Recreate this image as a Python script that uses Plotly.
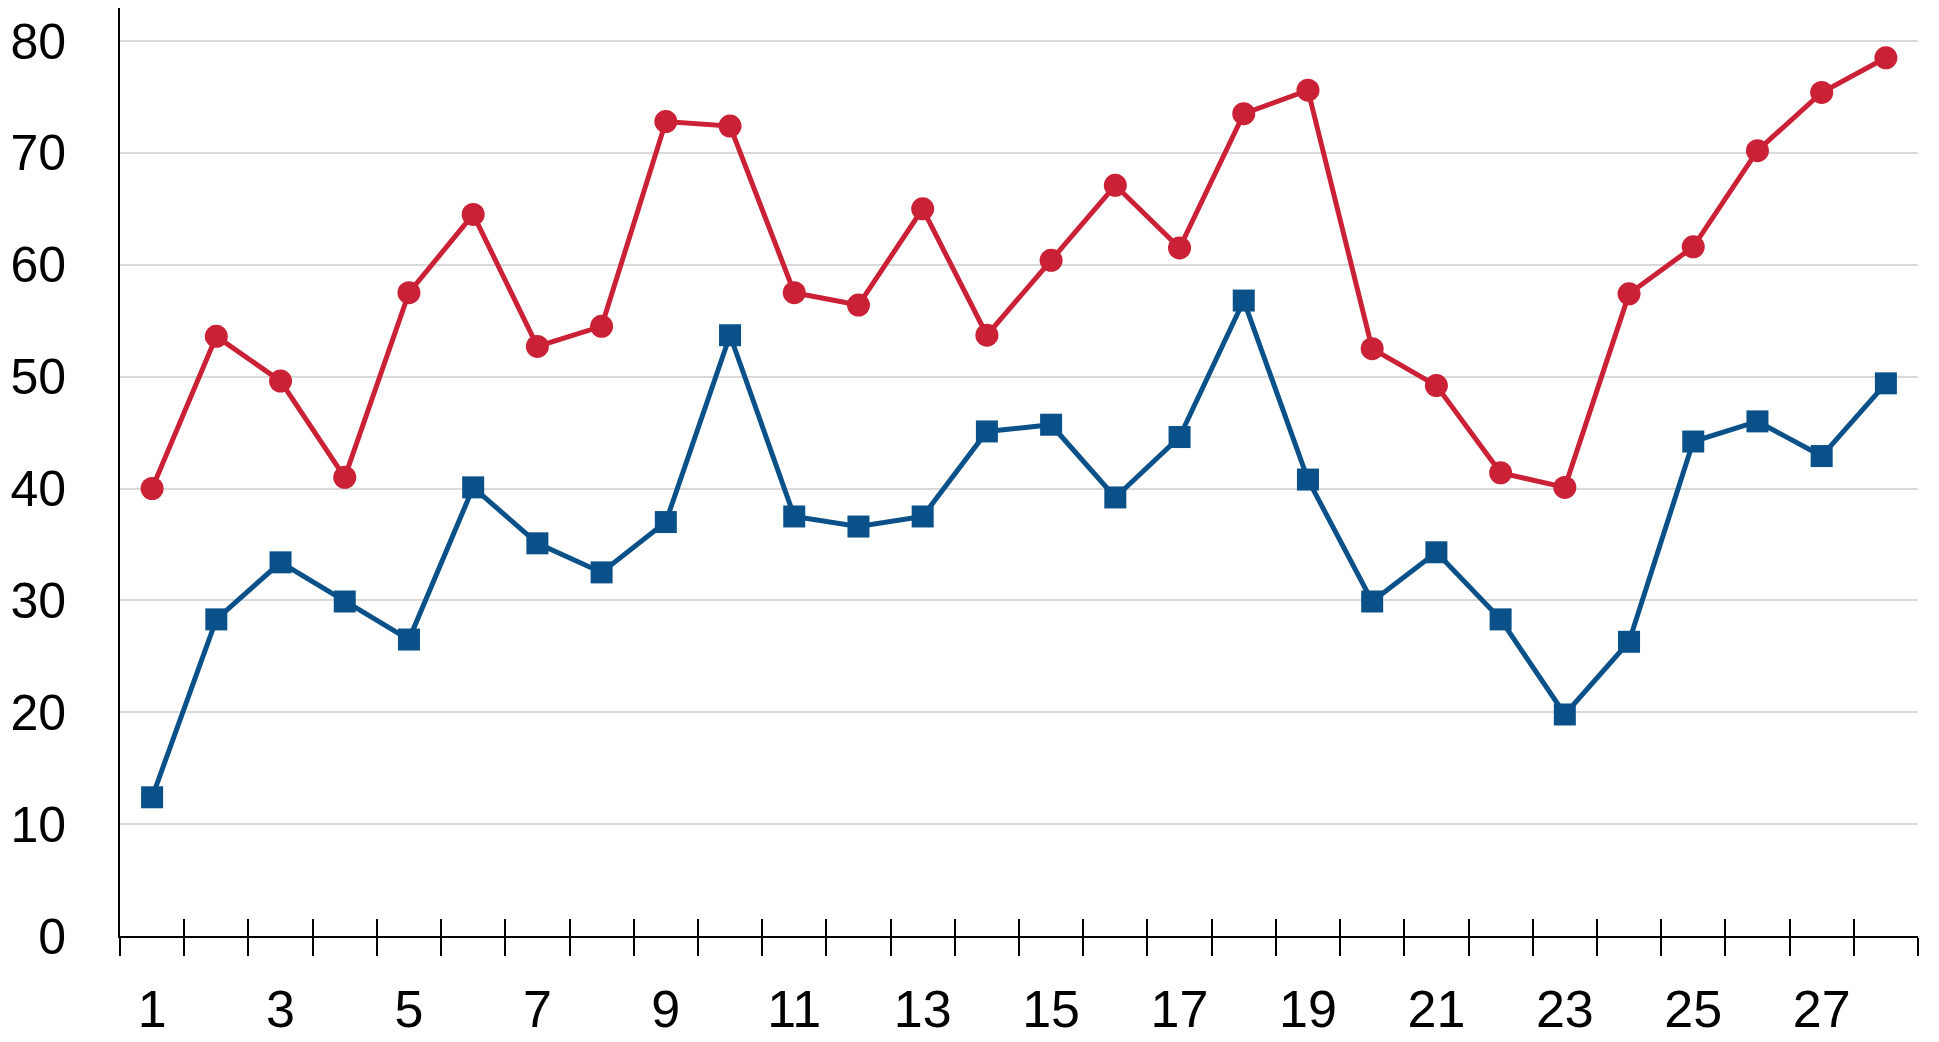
import plotly.graph_objects as go

categories = list(range(1, 29))
red_values = [40.0, 53.6, 49.6, 41.0, 57.5, 64.5, 52.7, 54.5, 72.8, 72.4,
              57.5, 56.4, 65.0, 53.7, 60.4, 67.1, 61.5, 73.5, 75.6, 52.5,
              49.2, 41.4, 40.1, 57.4, 61.6, 70.2, 75.4, 78.5]
blue_values = [12.4, 28.3, 33.4, 29.9, 26.5, 40.1, 35.1, 32.5, 37.0, 53.7,
               37.5, 36.6, 37.5, 45.1, 45.7, 39.2, 44.6, 56.8, 40.8, 29.9,
               34.3, 28.3, 19.8, 26.3, 44.2, 46.0, 42.9, 49.4]
x_tick_labels = [str(v) for v in range(1, 29, 2)]
y_ticks = [0, 10, 20, 30, 40, 50, 60, 70, 80]

RED = "#CA2136"
BLUE = "#0A5089"
FONT = "Liberation Sans, Arial, sans-serif"

boundaries = [c + 0.5 for c in [0] + categories]
x_range = [0.5, len(categories) + 0.5]

fig = go.Figure()
fig.add_trace(go.Scatter(
    x=categories, y=blue_values, mode="lines+markers",
    line=dict(color=BLUE, width=5),
    marker=dict(symbol="square", size=22, color=BLUE),
    showlegend=False, hoverinfo="skip"))
fig.add_trace(go.Scatter(
    x=categories, y=red_values, mode="lines+markers",
    line=dict(color=RED, width=5),
    marker=dict(symbol="circle", size=23, color=RED),
    showlegend=False, hoverinfo="skip"))
# invisible trace to anchor the overlay axis that draws the inward tick halves
fig.add_trace(go.Scatter(
    x=categories, y=blue_values, xaxis="x2", mode="markers",
    marker=dict(opacity=0), showlegend=False, hoverinfo="skip"))

fig.update_layout(
    width=1931, height=1034,
    margin=dict(l=112, r=21, t=0, b=106),
    paper_bgcolor="white", plot_bgcolor="white",
    font=dict(family=FONT, size=52, color="black"),
    xaxis=dict(
        range=x_range,
        tickmode="array",
        tickvals=[int(t) for t in x_tick_labels],
        ticktext=x_tick_labels,
        ticks="",
        ticklabelstandoff=27,
        automargin=False,
        showgrid=False, zeroline=False,
        showline=True, linecolor="black", linewidth=2,
        minor=dict(tickmode="array", tickvals=boundaries, ticks="outside",
                   ticklen=18, tickwidth=2, tickcolor="black", showgrid=False),
        tickfont=dict(family=FONT, size=52, color="black"),
    ),
    xaxis2=dict(
        range=x_range, overlaying="x", anchor="y", side="bottom",
        tickmode="array", tickvals=boundaries, ticks="inside",
        ticklen=17, tickwidth=2, tickcolor="black", automargin=False,
        showticklabels=False, showgrid=False, zeroline=False, showline=False,
    ),
    yaxis=dict(
        range=[0, 82.95],
        tickmode="array", tickvals=y_ticks,
        ticks="", ticklabelstandoff=42,
        automargin=False,
        showgrid=True, gridcolor="#D9D9D9", gridwidth=2,
        zeroline=False,
        showline=True, linecolor="black", linewidth=2,
        tickfont=dict(family=FONT, size=50, color="black"),
    ),
)

fig.write_html("out.html")
